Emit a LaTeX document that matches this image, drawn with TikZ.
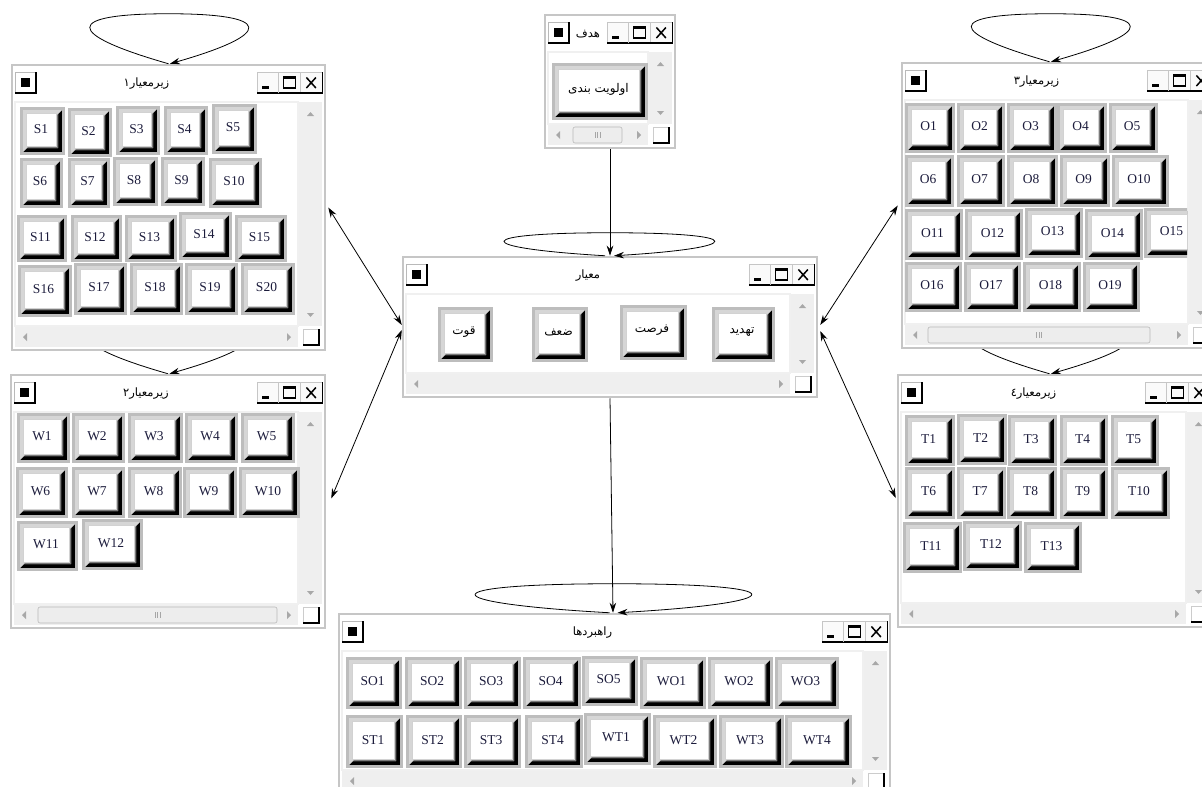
\documentclass[tikz,border=0pt]{standalone}
\usepackage{fontspec}
\setmainfont{Liberation Serif}
\newfontfamily\arfont[Script=Arabic]{DejaVu Sans}
\TeXXeTstate=1
\usetikzlibrary{arrows.meta,calc}
\pgfdeclarelayer{bg}
\pgfsetlayers{bg,main}

\definecolor{framegray}{HTML}{C6C6C6}
\definecolor{btnframe}{HTML}{BDBDBD}
\definecolor{bevlight}{HTML}{D6D6D6}
\definecolor{bevdark}{HTML}{7A7A7A}
\definecolor{scrollbg}{HTML}{EFEFEF}
\definecolor{arrowgray}{HTML}{A8A8A8}
\definecolor{txtblue}{HTML}{1C1C3C}

\tikzset{
  winframe/.style={draw=framegray, line width=2.5pt, fill=white, inner sep=0pt, rectangle},
  lbl/.style={inner sep=0pt, font=\fontsize{13.5}{15}\selectfont, text=txtblue},
  plbl/.style={inner sep=0pt, font=\arfont\fontsize{12}{14}\selectfont, text=black},
  ttl/.style={inner sep=0pt, font=\arfont\fontsize{11.5}{13}\selectfont, text=black},
  arr/.style={-{Stealth[length=10pt,width=6.5pt]}, line width=0.8pt},
  darr/.style={{Stealth[length=10pt,width=6.5pt]}-{Stealth[length=10pt,width=6.5pt]}, line width=0.8pt},
}

% title bar button box: left x, top y
\newcommand\tbox[2]{%
  \fill[gray!4] (#1,#2) rectangle (#1+21.7,#2+21);
  \draw[gray!45,line width=0.6pt] (#1,#2+21) -- (#1,#2) -- (#1+21.7,#2);
  \draw[black,line width=1.1pt] (#1+21.7,#2) -- (#1+21.7,#2+21) -- (#1,#2+21);
}

% window: name, x1, y1, x2, y2, title
\newcommand\win[6]{%
  \node[winframe, minimum width={(#4-#2)*1pt}, minimum height={(#5-#3)*1pt}] (#1) at ({(#2+#4)/2},{(#3+#5)/2}) {};
  % left title button
  \fill[white] (#2+3,#3+7) rectangle (#2+24,#3+28);
  \draw[gray!55,line width=0.6pt] (#2+3,#3+28) -- (#2+3,#3+7) -- (#2+24,#3+7);
  \draw[black,line width=1.2pt] (#2+24,#3+7) -- (#2+24,#3+28) -- (#2+3,#3+28);
  \fill[black] (#2+9,#3+13) rectangle (#2+18,#3+22);
  % right title buttons
  \tbox{#4-68}{#3+7}
  \tbox{#4-46.3}{#3+7}
  \tbox{#4-24.6}{#3+7}
  \fill[black] (#4-68+5,#3+21) rectangle (#4-68+11.5,#3+23.5);
  \draw[black,line width=1.2pt] (#4-46.3+5,#3+12) rectangle (#4-46.3+16.5,#3+23);
  \draw[black,line width=2pt] (#4-46.3+4.4,#3+12.5) -- (#4-46.3+17.1,#3+12.5);
  \draw[black,line width=1.5pt] (#4-24.6+6,#3+12.5) -- (#4-24.6+15.5,#3+23) (#4-24.6+15.5,#3+12.5) -- (#4-24.6+6,#3+23);
  % title
  \node[ttl] (#1-t) at ({(#2+#4)/2-22},#3+19) {#6};
  % client area
  \fill[white] (#2+3,#3+37) rectangle (#4-27,#5-24);
  \draw[gray!12,line width=1.5pt] (#2+3,#3+37) rectangle (#4-27,#5-24);
  % vertical scrollbar
  \fill[scrollbg] (#4-26,#3+37) rectangle (#4-3,#5-24);
  \fill[arrowgray] (#4-18,#3+51) -- (#4-11,#3+51) -- (#4-14.5,#3+47) -- cycle;
  \fill[arrowgray] (#4-18,#5-37) -- (#4-11,#5-37) -- (#4-14.5,#5-33) -- cycle;
  % horizontal scrollbar
  \fill[scrollbg] (#2+3,#5-23) rectangle (#4-27,#5-3);
  \fill[arrowgray] (#2+15,#5-17) -- (#2+15,#5-9) -- (#2+11,#5-13) -- cycle;
  \fill[arrowgray] (#4-38,#5-17) -- (#4-38,#5-9) -- (#4-34,#5-13) -- cycle;
  % corner
  \fill[white] (#4-22,#5-21) rectangle (#4-6,#5-5);
  \draw[gray!40,line width=0.6pt] (#4-22,#5-5) -- (#4-22,#5-21) -- (#4-6,#5-21);
  \draw[black,line width=1.1pt] (#4-22,#5-5) -- (#4-6,#5-5) -- (#4-6,#5-21);
}

% scrollbar thumb: x1, x2, window bottom y
\newcommand\thumb[3]{%
  \draw[gray!55, fill=gray!14, rounded corners=2pt, line width=0.6pt] (#1,#3-21) rectangle (#2,#3-5);
  \foreach \dd in {-2.5,0,2.5} \draw[gray!70, line width=0.7pt] ({(#1+#2)/2+\dd},#3-16) -- ({(#1+#2)/2+\dd},#3-10);
}

% button body: x1, y1, x2, y2
\newcommand\btnbase[4]{%
  \fill[btnframe] (#1,#2) rectangle (#3,#4);
  \fill[black] (#1+3,#2+3) rectangle (#3-3,#4-3);
  \fill[bevlight] (#1+3,#2+3) -- (#3-3,#2+3) -- (#3-7,#2+7) -- (#3-7,#4-7) -- (#1+7,#4-7) -- (#1+3,#4-3) -- cycle;
  \fill[bevdark] (#3-7,#2+7) -- (#3-7,#4-7) -- (#1+7,#4-7) -- (#1+9,#4-9) -- (#3-9,#4-9) -- (#3-9,#2+9) -- cycle;
  \fill[white] (#1+6,#2+6) rectangle (#3-9,#4-9);
  \draw[gray!35,line width=0.5pt] (#1+6,#2+6) rectangle (#3-9,#4-9);
}
% latin button: name, x1, y1, x2, y2, label
\newcommand\btn[6]{%
  \btnbase{#2}{#3}{#4}{#5}
  \node[lbl] (#1) at ({(#2+#4)/2-1.5},{(#3+#5)/2-1.5}) {#6};
}
% persian button
\newcommand\pbtn[6]{%
  \btnbase{#2}{#3}{#4}{#5}
  \node[plbl] (#1) at ({(#2+#4)/2-1.5},{(#3+#5)/2-2}) {#6};
}

\begin{document}
\begin{tikzpicture}[x=1pt,y=-1pt]
\useasboundingbox (0,0) rectangle (1202,787);
\begin{pgfonlayer}{bg}
\fill[white] (0,0) rectangle (1202,787);
\end{pgfonlayer}
\begin{scope}
\clip (0,0) rectangle (1202,787);

% ---------- window A ----------
\win{wA}{12}{65}{325}{350}{\beginR زیرمعیار۱\endR}
\btn{S1}{20}{107}{65}{155}{S1}
\btn{S2}{68}{108}{112}{157}{S2}
\btn{S3}{116}{106}{160}{155}{S3}
\btn{S4}{164}{106}{208}{155}{S4}
\btn{S5}{212}{104}{257}{154}{S5}
\btn{S6}{20}{158}{63}{208}{S6}
\btn{S7}{68}{158}{110}{208}{S7}
\btn{S8}{113}{157}{158}{206}{S8}
\btn{S9}{161}{157}{205}{206}{S9}
\btn{S10}{209}{158}{262}{208}{S10}
\btn{S11}{17}{215}{67}{262}{S11}
\btn{S12}{71}{215}{122}{262}{S12}
\btn{S13}{125}{215}{177}{262}{S13}
\btn{S14}{179}{212}{232}{260}{S14}
\btn{S15}{235}{215}{287}{262}{S15}
\btn{S16}{18}{265}{72}{317}{S16}
\btn{S17}{74}{263}{127}{315}{S17}
\btn{S18}{130}{263}{183}{315}{S18}
\btn{S19}{185}{263}{238}{315}{S19}
\btn{S20}{241}{263}{295}{315}{S20}

% ---------- window B ----------
\win{wB}{11}{375}{325}{628}{\beginR زیرمعیار۲\endR}
\thumb{38}{277}{628}
\btn{W1}{17}{413}{70}{463}{W1}
\btn{W2}{72}{413}{125}{463}{W2}
\btn{W3}{128}{413}{183}{463}{W3}
\btn{W4}{185}{413}{238}{463}{W4}
\btn{W5}{241}{413}{295}{463}{W5}
\btn{W6}{16}{467}{68}{518}{W6}
\btn{W7}{72}{467}{125}{518}{W7}
\btn{W8}{128}{467}{182}{518}{W8}
\btn{W9}{183}{467}{237}{518}{W9}
\btn{W10}{239}{467}{300}{518}{W10}
\btn{W11}{17}{521}{78}{571}{W11}
\btn{W12}{82}{519}{143}{570}{W12}

% ---------- window C ----------
\win{wC}{545}{15}{675}{148}{\beginR هدف\endR}
\thumb{573}{622}{148}
\pbtn{goal}{552}{63}{648}{120}{\beginR اولویت بندی\endR}

% ---------- window D ----------
\win{wD}{403}{257}{817}{397}{\beginR معیار\endR}
\pbtn{c1}{438}{307}{493}{362}{\beginR قوت\endR}
\pbtn{c2}{532}{307}{588}{362}{\beginR ضعف\endR}
\pbtn{c3}{620}{305}{687}{360}{\beginR فرصت\endR}
\pbtn{c4}{712}{307}{775}{362}{\beginR تهدید\endR}

% ---------- window E ----------
\win{wE}{902}{63}{1215}{348}{\beginR زیرمعیار۳\endR}
\thumb{928}{1150}{348}
\btn{O1}{905}{103}{955}{153}{O1}
\btn{O2}{957}{103}{1005}{153}{O2}
\btn{O3}{1007}{103}{1057}{153}{O3}
\btn{O4}{1057}{103}{1107}{153}{O4}
\btn{O5}{1109}{103}{1158}{153}{O5}
\btn{O6}{905}{155}{954}{207}{O6}
\btn{O7}{957}{155}{1005}{207}{O7}
\btn{O8}{1007}{155}{1058}{207}{O8}
\btn{O9}{1060}{155}{1110}{207}{O9}
\btn{O10}{1112}{155}{1169}{207}{O10}
\btn{O11}{905}{209}{963}{260}{O11}
\btn{O12}{965}{209}{1023}{260}{O12}
\btn{O13}{1025}{208}{1083}{258}{O13}
\btn{O14}{1085}{209}{1143}{260}{O14}
\begin{scope}
\clip (903,100) rectangle (1187,322);
\btn{O15}{1144}{208}{1202}{258}{O15}
\end{scope}
\btn{O16}{905}{262}{962}{312}{O16}
\btn{O17}{964}{262}{1021}{312}{O17}
\btn{O18}{1023}{262}{1081}{312}{O18}
\btn{O19}{1083}{262}{1140}{312}{O19}

% ---------- window F ----------
\win{wF}{898}{375}{1213}{627}{\beginR زیرمعیار٤\endR}
\btn{T1}{905}{415}{955}{466}{T1}
\btn{T2}{957}{414}{1007}{465}{T2}
\btn{T3}{1008}{415}{1057}{466}{T3}
\btn{T4}{1060}{415}{1108}{466}{T4}
\btn{T5}{1111}{415}{1159}{466}{T5}
\btn{T6}{905}{467}{955}{519}{T6}
\btn{T7}{957}{467}{1006}{519}{T7}
\btn{T8}{1007}{467}{1057}{519}{T8}
\btn{T9}{1060}{467}{1108}{519}{T9}
\btn{T10}{1111}{467}{1170}{519}{T10}
\btn{T11}{903}{522}{962}{573}{T11}
\btn{T12}{963}{521}{1022}{571}{T12}
\btn{T13}{1024}{522}{1082}{573}{T13}

% ---------- window G ----------
\win{wG}{339}{614}{890}{794}{\beginR راهبردها\endR}
\btn{SO1}{346}{657}{402}{709}{SO1}
\btn{SO2}{405}{657}{462}{709}{SO2}
\btn{SO3}{464}{657}{521}{709}{SO3}
\btn{SO4}{523}{657}{581}{709}{SO4}
\btn{SO5}{582}{656}{638}{706}{SO5}
\btn{WO1}{640}{657}{706}{709}{WO1}
\btn{WO2}{708}{657}{773}{709}{WO2}
\btn{WO3}{775}{657}{839}{709}{WO3}
\btn{ST1}{346}{715}{403}{768}{ST1}
\btn{ST2}{406}{715}{462}{768}{ST2}
\btn{ST3}{464}{715}{521}{768}{ST3}
\btn{ST4}{525}{715}{583}{768}{ST4}
\btn{WT1}{584}{713}{651}{765}{WT1}
\btn{WT2}{653}{715}{717}{768}{WT2}
\btn{WT3}{719}{715}{784}{768}{WT3}
\btn{WT4}{785}{715}{852}{768}{WT4}

\end{scope}

% ---------- partly hidden self-loops (behind windows) ----------
\begin{pgfonlayer}{bg}
\draw[arr] (wB.north) .. controls +(-105,-30) and +(-105,0) .. ($(wB.north)+(0,-50)$) .. controls +(105,0) and +(105,-30) .. ([xshift=1.5pt]wB.north);
\draw[arr] ([xshift=-6pt]wF.north) .. controls +(-105,-30) and +(-105,0) .. ($(wF.north)+(-5,-50)$) .. controls +(105,0) and +(105,-30) .. ([xshift=-4.5pt]wF.north);
\end{pgfonlayer}

% ---------- visible self-loops ----------
\draw[arr] (wA.north) .. controls +(-105,-30) and +(-105,0) .. ($(wA.north)+(0,-50)$) .. controls +(105,0) and +(105,-30) .. ([xshift=1.5pt]wA.north);
\draw[arr] ([xshift=-9pt]wE.north) .. controls +(-105,-30) and +(-105,0) .. ($(wE.north)+(-8,-48)$) .. controls +(105,0) and +(105,-30) .. ([xshift=-7.5pt]wE.north);
\draw[arr] ([xshift=-5pt]wD.north) .. controls +(-136,-8) and +(-140,0) .. ($(wD.north)+(0,-23)$) .. controls +(140,0) and +(132,-8) .. ([xshift=4pt]wD.north);
\draw[arr] ([xshift=-5pt]wG.north) .. controls +(-180,-10) and +(-185,0) .. ($(wG.north)+(0,-29)$) .. controls +(185,0) and +(175,-10) .. ([xshift=3pt]wG.north);

% ---------- connectors ----------
\draw[arr] (wC.south) -- (wD.north);
\draw[arr] (wD.south) -- ([xshift=-1.5pt]wG.north);
\draw[darr] ([xshift=2pt]wA.east) -- ([yshift=2pt]wD.west);
\draw[darr] ([xshift=5pt,yshift=3pt]wB.east) -- ([yshift=-3pt]wD.west);
\draw[darr] ([xshift=-3pt]wE.west) -- ([xshift=2pt,yshift=2pt]wD.east);
\draw[darr] ([xshift=-1pt,yshift=3pt]wF.west) -- ([xshift=2pt,yshift=-4pt]wD.east);
\end{tikzpicture}
\end{document}
